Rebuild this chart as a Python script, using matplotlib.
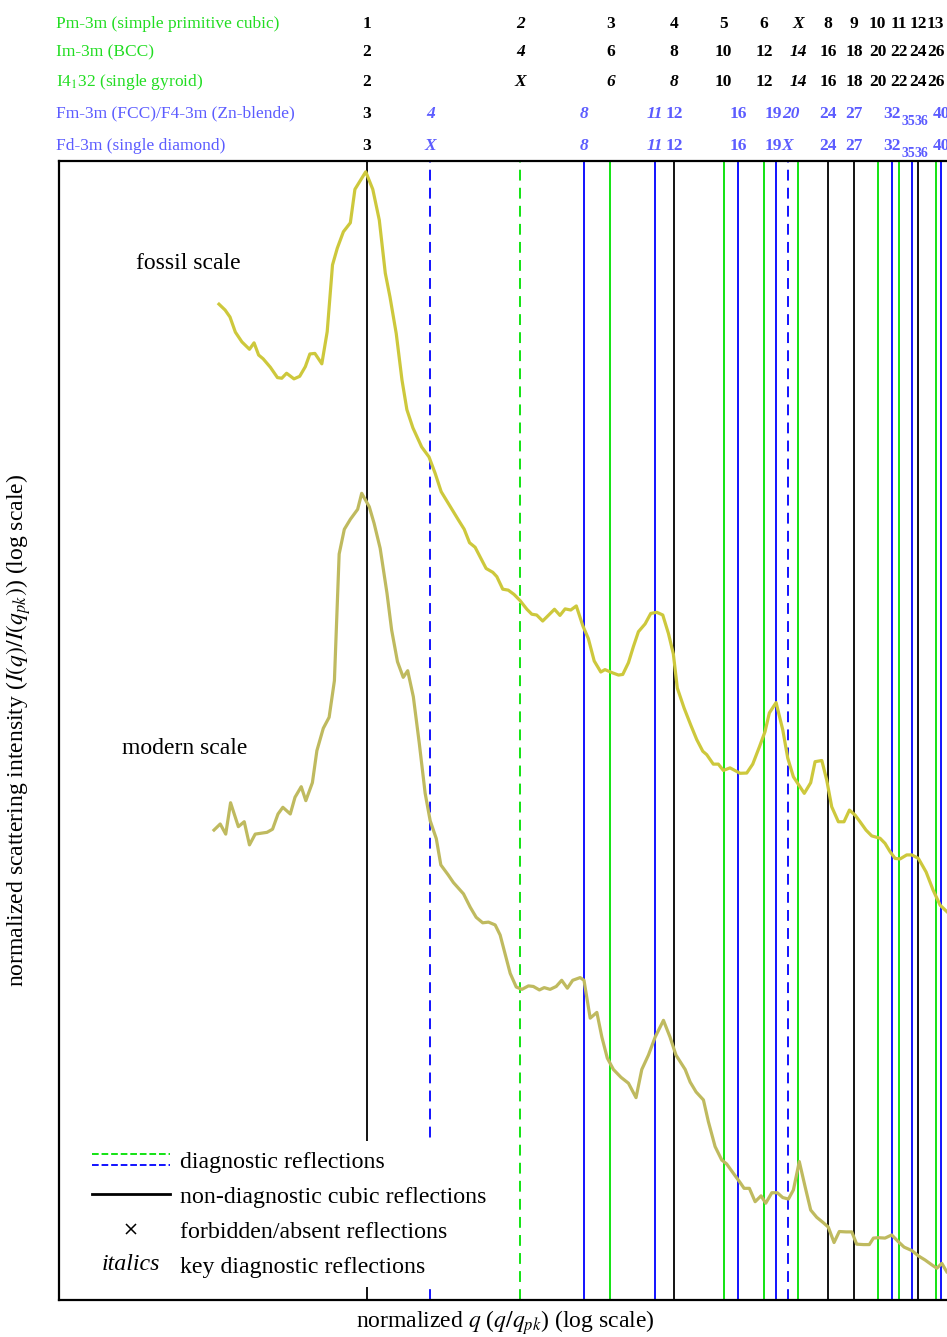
import numpy as np
import matplotlib
matplotlib.use("Agg")
import matplotlib.pyplot as plt
import matplotlib.transforms as mtransforms
from matplotlib.lines import Line2D
from matplotlib.text import Text
from matplotlib.legend_handler import HandlerBase

plt.rcParams['font.family'] = ['Liberation Serif', 'DejaVu Serif']
plt.rcParams['mathtext.fontset'] = 'stix'

# SAXS profiles, q/q_pk and I(q)/I(q_pk)
fossil_q = [0.717, 0.727, 0.735, 0.744, 0.755, 0.768, 0.776, 0.784, 0.792, 0.805,
            0.818, 0.826, 0.835, 0.849, 0.860, 0.871, 0.880, 0.890, 0.904, 0.915,
            0.926, 0.936, 0.949, 0.964, 0.974, 0.998, 1.014, 1.029, 1.043, 1.054,
            1.069, 1.083, 1.095, 1.110, 1.132, 1.151, 1.167, 1.183, 1.202, 1.230,
            1.246, 1.261, 1.277, 1.309, 1.329, 1.341, 1.359, 1.376, 1.394, 1.413,
            1.435, 1.451, 1.467, 1.487, 1.527, 1.546, 1.564, 1.584, 1.604, 1.628,
            1.648, 1.670, 1.695, 1.711, 1.738, 1.764, 1.781, 1.804, 1.824, 1.845,
            1.873, 1.897, 1.923, 1.949, 1.974, 1.996, 2.014, 2.045, 2.076, 2.104,
            2.133, 2.152, 2.184, 2.209, 2.234, 2.268, 2.320, 2.355, 2.387, 2.423,
            2.454, 2.478, 2.516, 2.554, 2.583, 2.616, 2.681, 2.720, 2.747, 2.789,
            2.820, 2.852, 2.895, 2.932, 2.968, 3.006, 3.040, 3.081, 3.121, 3.180,
            3.216, 3.253, 3.290, 3.327, 3.377, 3.416, 3.467, 3.528, 3.584, 3.641,
            3.699]
fossil_i = [0.362, 0.346, 0.328, 0.292, 0.271, 0.256, 0.269, 0.245, 0.238, 0.223,
            0.206, 0.205, 0.213, 0.204, 0.208, 0.224, 0.247, 0.248, 0.229, 0.293,
            0.489, 0.556, 0.631, 0.676, 0.874, 1.0, 0.874, 0.690, 0.459, 0.383,
            0.289, 0.202, 0.161, 0.140, 0.121, 0.112, 0.0988, 0.0858, 0.0785, 0.0690,
            0.0643, 0.0580, 0.0560, 0.0476, 0.0462, 0.0447, 0.0406, 0.0403, 0.0390, 0.0372,
            0.0348, 0.0335, 0.0333, 0.0318, 0.0348, 0.0332, 0.0349, 0.0346, 0.0357, 0.0306,
            0.0278, 0.0234, 0.0215, 0.0219, 0.0214, 0.0210, 0.0211, 0.0231, 0.0261, 0.0293,
            0.0311, 0.0337, 0.0340, 0.0333, 0.0289, 0.0247, 0.0190, 0.0163, 0.0143, 0.0128,
            0.0117, 0.0114, 0.0106, 0.0106, 0.0101, 0.0103, 0.00988, 0.00990, 0.0106, 0.0121,
            0.0136, 0.0157, 0.0170, 0.0138, 0.0111, 0.00962, 0.00847, 0.00919, 0.0108, 0.0109,
            0.00938, 0.00764, 0.00681, 0.00681, 0.00745, 0.00717, 0.00681, 0.00639, 0.00611, 0.00600,
            0.00577, 0.00541, 0.00514, 0.00512, 0.00528, 0.00528, 0.00514, 0.00463, 0.00403, 0.00359,
            0.00341]
modern_q = [0.709, 0.719, 0.728, 0.736, 0.749, 0.759, 0.768, 0.778, 0.799, 0.809,
            0.819, 0.828, 0.842, 0.851, 0.863, 0.872, 0.885, 0.894, 0.907, 0.919,
            0.930, 0.940, 0.951, 0.964, 0.980, 0.989, 1.006, 1.017, 1.031, 1.047,
            1.058, 1.072, 1.086, 1.097, 1.111, 1.126, 1.141, 1.154, 1.170, 1.182,
            1.202, 1.216, 1.244, 1.263, 1.280, 1.299, 1.316, 1.336, 1.351, 1.382,
            1.401, 1.419, 1.440, 1.456, 1.476, 1.492, 1.512, 1.533, 1.552, 1.572,
            1.591, 1.618, 1.632, 1.655, 1.680, 1.699, 1.720, 1.744, 1.774, 1.804,
            1.835, 1.859, 1.887, 1.916, 1.952, 1.981, 2.008, 2.050, 2.073, 2.101,
            2.136, 2.160, 2.193, 2.226, 2.251, 2.285, 2.320, 2.341, 2.369, 2.400,
            2.432, 2.458, 2.492, 2.523, 2.554, 2.587, 2.616, 2.651, 2.686, 2.720,
            2.757, 2.799, 2.830, 2.867, 2.901, 2.946, 2.984, 3.017, 3.063, 3.104,
            3.133, 3.168, 3.216, 3.265, 3.314, 3.357, 3.416, 3.467, 3.520, 3.573,
            3.614, 3.655, 3.696]
modern_i = [0.0754, 0.0790, 0.0731, 0.0930, 0.0774, 0.0804, 0.0673, 0.0731, 0.0741, 0.0759,
            0.0853, 0.0898, 0.0853, 0.0970, 0.1052, 0.0945, 0.1085, 0.1387, 0.1647, 0.1792,
            0.2373, 0.6276, 0.7586, 0.8190, 0.8844, 1.0, 0.9022, 0.7943, 0.6556, 0.4642,
            0.3502, 0.2746, 0.2435, 0.2562, 0.2099, 0.1468, 0.1, 0.0810, 0.0706, 0.0577,
            0.0534, 0.0504, 0.0462, 0.0417, 0.0386, 0.0370, 0.0372, 0.0364, 0.0337, 0.0251,
            0.0226, 0.0222, 0.0228, 0.0227, 0.0221, 0.0225, 0.0222, 0.0227, 0.0238, 0.0224,
            0.0238, 0.0243, 0.0238, 0.0178, 0.0186, 0.0154, 0.0131, 0.0120, 0.0113, 0.0108,
            0.00967, 0.0120, 0.0134, 0.0154, 0.0175, 0.0154, 0.0134, 0.0120, 0.0109, 0.0101,
            0.00950, 0.00804, 0.00664, 0.00599, 0.00581, 0.00541, 0.00504, 0.00482, 0.00482, 0.00435,
            0.00455, 0.00430, 0.00466, 0.00466, 0.00449, 0.00444, 0.00476, 0.00592, 0.00488, 0.00408,
            0.00386, 0.00370, 0.00358, 0.00318, 0.00346, 0.00345, 0.00345, 0.00314, 0.00313, 0.00313,
            0.00329, 0.00330, 0.00329, 0.00337, 0.00320, 0.00307, 0.00299, 0.00287, 0.00278, 0.00268,
            0.00261, 0.00271, 0.00254]
fossil_shift = 11.8  # vertical offset of the fossil curve

# reflection lines, N = h^2+k^2+l^2 ; q/q_pk = sqrt(N/N1)
black_solid_n = [1, 4, 8, 9, 12]          # Pm-3m, N1 = 1
green_solid_n = [3, 5, 6, 7, 10, 11, 13]  # Pm-3m, N1 = 1
green_dashed_n = [2]                      # Pm-3m, N1 = 1
blue_solid_n = [8, 11, 16, 19, 32, 35, 40]  # Fm-3m, N1 = 3
blue_dashed_n = [4, 20]                   # Fm-3m, N1 = 3

# header rows: name, N1, reflections, shown text, italic set
row_names = ['Pm-3m (simple primitive cubic)', 'Im-3m (BCC)', 'I4$_1$32 (single gyroid)',
             'Fm-3m (FCC)/F4-3m (Zn-blende)', 'Fd-3m (single diamond)']
pm_n = [1, 2, 3, 4, 5, 6, 7, 8, 9, 10, 11, 12, 13]
pm_txt = ['1', '2', '3', '4', '5', '6', 'X', '8', '9', '10', '11', '12', '13']
pm_ital = [2, 7]
im_n = [2, 4, 6, 8, 10, 12, 14, 16, 18, 20, 22, 24, 26]
im_txt = ['2', '4', '6', '8', '10', '12', '14', '16', '18', '20', '22', '24', '26']
im_ital = [4, 14]
gy_txt = ['2', 'X', '6', '8', '10', '12', '14', '16', '18', '20', '22', '24', '26']
gy_ital = [4, 6, 8, 14]
fcc_n = [3, 4, 8, 11, 12, 16, 19, 20, 24, 27, 32, 35, 36, 40]
fcc_txt = ['3', '4', '8', '11', '12', '16', '19', '20', '24', '27', '32', '35', '36', '40']
fd_txt = ['3', 'X', '8', '11', '12', '16', '19', 'X', '24', '27', '32', '35', '36', '40']
fcc_ital = [4, 8, 11, 20]
sub_n = [35, 36]
# neighbouring labels written back to back (left one ends where right one starts)
joined_pairs = [(19, 20), (35, 36)]

GREEN = '#00e000'
BLUE = '#0000ff'
GREEN_TXT = '#22dd22'
BLUE_TXT = '#5c5cff'
DASH = (0, (6, 4))


class HandlerTwoLines(HandlerBase):
    def create_artists(self, legend, orig_handle, xdescent, ydescent, width, height, fontsize, trans):
        yc = height / 2 - ydescent
        arts = []
        for ln, dy in zip(orig_handle, [4.0, -4.0]):
            arts.append(Line2D([-xdescent, width - xdescent], [yc + dy, yc + dy],
                               color=ln.get_color(), linestyle=ln.get_linestyle(),
                               linewidth=ln.get_linewidth(), transform=trans))
        return arts


class HandlerItalicText(HandlerBase):
    def create_artists(self, legend, orig_handle, xdescent, ydescent, width, height, fontsize, trans):
        t = Text(width / 2 - xdescent, height / 2 - ydescent, orig_handle.get_text(),
                 ha='center', va='center', fontsize=fontsize, fontstyle='italic',
                 transform=trans)
        return [t]


fig = plt.figure(figsize=(9.47, 13.37), dpi=100)
ax = fig.add_axes([0.0623, 0.0277, 0.943, 0.8519])
ax.set_xscale('log')
ax.set_yscale('log')
ax.set_xlim(0.5, 3.74)
ax.set_ylim(0.002046, 12.82)

for n in black_solid_n:
    ax.axvline(np.sqrt(n), color='black', lw=1.3, zorder=1)
for n in green_solid_n:
    ax.axvline(np.sqrt(n), color=GREEN, lw=1.3, zorder=1)
for n in green_dashed_n:
    ax.axvline(np.sqrt(n), color=GREEN, lw=1.3, ls=DASH, zorder=1)
for n in blue_solid_n:
    ax.axvline(np.sqrt(n / 3), color=BLUE, lw=1.3, zorder=1)
for n in blue_dashed_n:
    ax.axvline(np.sqrt(n / 3), color=BLUE, lw=1.3, ls=DASH, zorder=1)

ax.plot(fossil_q, np.array(fossil_i) * fossil_shift, color='#cdc83c', lw=2.3, zorder=3)
ax.plot(modern_q, modern_i, color='#bfba5f', lw=2.3, zorder=3)

ax.text(0.145, 0.910, 'fossil scale', transform=ax.transAxes, fontsize=17,
        ha='center', va='center')
ax.text(0.1405, 0.4838, 'modern scale', transform=ax.transAxes, fontsize=17,
        ha='center', va='center')

ax.set_xticks([])
ax.set_xticks([], minor=True)
ax.set_yticks([])
ax.set_yticks([], minor=True)
for s in ['left', 'top', 'bottom']:
    ax.spines[s].set_linewidth(1.6)
ax.spines['right'].set_visible(False)

ax.set_xlabel('normalized $q$ ($q/q_{pk}$) (log scale)', fontsize=17)
ax.xaxis.set_label_coords(0.5, -0.007)
ax.set_ylabel('normalized scattering intensity ($I(q)/I(q_{pk})$) (log scale)', fontsize=17)
ax.yaxis.set_label_coords(-0.029, 0.5)

# header with reflection indices
blend = mtransforms.blended_transform_factory(ax.transData, fig.transFigure)
row_y = [1 - 23.5 / 1337, 1 - 52.5 / 1337, 1 - 81.5 / 1337, 1 - 113.5 / 1337, 1 - 145.5 / 1337]
rows = [
    (pm_n, pm_txt, pm_ital, 1, GREEN_TXT),
    (im_n, im_txt, im_ital, 2, GREEN_TXT),
    (im_n, gy_txt, gy_ital, 2, GREEN_TXT),
    (fcc_n, fcc_txt, fcc_ital, 3, BLUE_TXT),
    (fcc_n, fd_txt, fcc_ital, 3, BLUE_TXT),
]
for (ns, txts, ital, n1, ncol), name, yy in zip(rows, row_names, row_y):
    fig.text(56 / 947, yy, name, color=ncol, fontsize=12.5, ha='left', va='center')
    for k, (n, t) in enumerate(zip(ns, txts)):
        col = 'black' if (n1 < 3 or k == 0) else BLUE_TXT
        size, y_off = 12.5, 0
        if n1 == 3 and n in sub_n:
            size, y_off = 10, -8 / 1337
        xq, ha = np.sqrt(n / n1), 'center'
        if n1 == 3:
            for a, b in joined_pairs:
                if n in (a, b):
                    xq = np.sqrt(np.sqrt(a * b) / n1)
                    ha = 'right' if n == a else 'left'
        ax.text(xq, yy + y_off, t, transform=blend, color=col,
                fontsize=size, fontweight='bold',
                fontstyle='italic' if n in ital else 'normal',
                ha=ha, va='center', clip_on=False)

diag = (Line2D([], [], color=GREEN, lw=1.3, ls=DASH), Line2D([], [], color=BLUE, lw=1.3, ls=DASH))
nondiag = Line2D([], [], color='black', lw=2)
forbid = Line2D([], [], color='black', marker='x', ls='none', markersize=7, mew=1.1)
ital = Text(text='italics')
ax.legend([diag, nondiag, forbid, ital],
          ['diagnostic reflections', 'non-diagnostic cubic reflections',
           'forbidden/absent reflections', 'key diagnostic reflections'],
          handler_map={tuple: HandlerTwoLines(), Text: HandlerItalicText()},
          loc='lower left', bbox_to_anchor=(0.026, 0.011), borderaxespad=0,
          fontsize=17.2, frameon=True, facecolor='white', edgecolor='none',
          framealpha=1, fancybox=False, handlelength=3.26, handletextpad=0.42,
          labelspacing=0.56, borderpad=0.4).set_zorder(5)

fig.savefig('out.png', dpi=100)
